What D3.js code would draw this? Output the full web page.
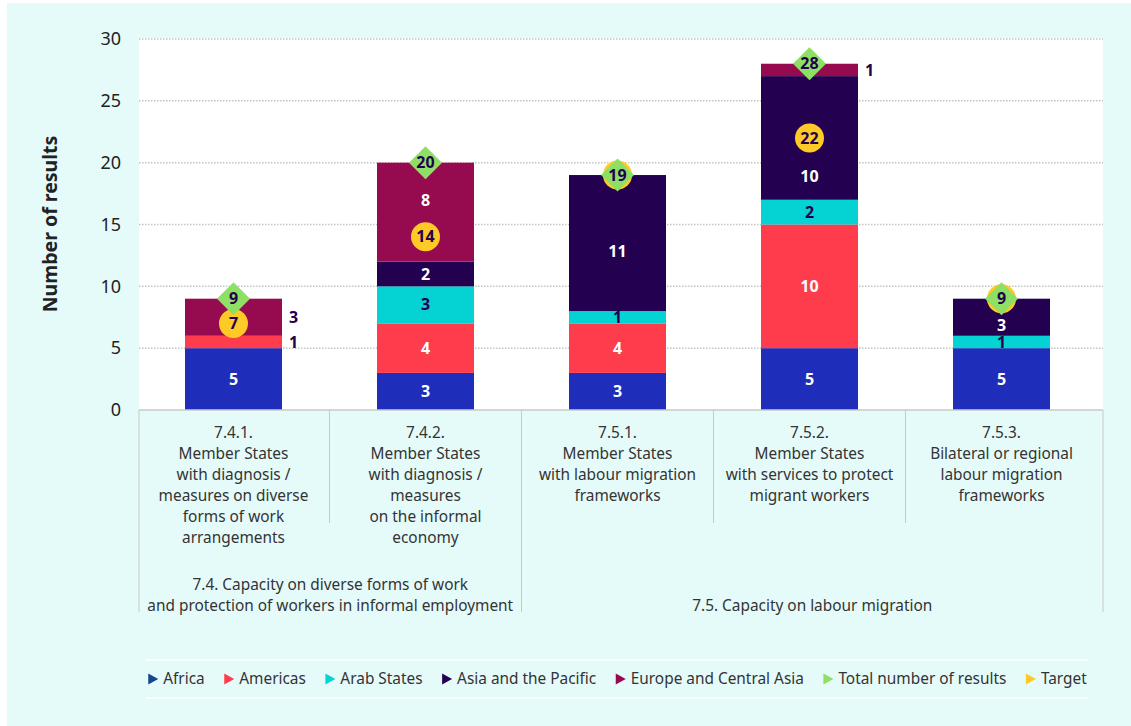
<!DOCTYPE html>
<html>
<head>
<meta charset="utf-8">
<script src="https://cdn.jsdelivr.net/npm/d3@7"></script>
<style>
  html, body { margin: 0; padding: 0; background: #ffffff; }
  svg { display: block; font-family: "Noto Sans", "Open Sans", sans-serif; }
</style>
</head>
<body>
<svg id="chart" width="1131" height="726"></svg>
<script>
// Indicator codes (one bar each)
const categories = ["7.4.1.", "7.4.2.", "7.5.1.", "7.5.2.", "7.5.3."];

// Multi-line axis labels under each bar
const categoryLabels = [
  ["7.4.1.", "Member States", "with diagnosis /", "measures on diverse", "forms of work", "arrangements"],
  ["7.4.2.", "Member States", "with diagnosis /", "measures", "on the informal", "economy"],
  ["7.5.1.", "Member States", "with labour migration", "frameworks"],
  ["7.5.2.", "Member States", "with services to protect", "migrant workers"],
  ["7.5.3.", "Bilateral or regional", "labour migration", "frameworks"]
];

// Outcome groups spanning several indicators
const groupNames = [
  ["7.4. Capacity on diverse forms of work", "and protection of workers in informal employment"],
  ["7.5. Capacity on labour migration"]
];
const groupMembers = [["7.4.1.", "7.4.2."], ["7.5.1.", "7.5.2.", "7.5.3."]];

// Results per region
const regions = ["Africa", "Americas", "Arab States", "Asia and the Pacific", "Europe and Central Asia"];
const africa   = [5, 3, 3, 5, 5];
const americas = [1, 4, 4, 10, 0];
const arab     = [0, 3, 1, 2, 1];
const asiaPac  = [0, 2, 11, 10, 3];
const europeCA = [3, 8, 0, 1, 0];

// Overall totals and targets
const totals  = [9, 20, 19, 28, 9];
const targets = [7, 14, 19, 22, 9];

const yTicks = [0, 5, 10, 15, 20, 25, 30];

const legendItems = ["Africa", "Americas", "Arab States", "Asia and the Pacific",
                     "Europe and Central Asia", "Total number of results", "Target"];

// ---------- styling ----------
const regionColors = ["#1f2dbb", "#fe3c4c", "#05d2d2", "#230050", "#960a50"];
const regionText   = ["#ffffff", "#ffffff", "#230050", "#ffffff", "#ffffff"];
const legendColors = ["#16468c", "#fe3c4c", "#05d2d2", "#230050", "#960a50", "#8de064", "#ffc926"];
const totalColor = "#8de064";
const targetColor = "#ffc926";
const darkInk = "#230050";
const labelSize = 15.4;

const svg = d3.select("#chart");
const W = 1131, H = 726;
const plot = { left: 139, right: 1103, top: 38, bottom: 410 };

// background panel
svg.append("rect").attr("x", 7).attr("y", 3).attr("width", W - 7).attr("height", H - 3)
  .attr("fill", "#e5fbfa");
svg.append("rect").attr("x", plot.left).attr("y", plot.top)
  .attr("width", plot.right - plot.left).attr("height", plot.bottom - plot.top)
  .attr("fill", "#ffffff");

// scales
const pad = 0.4948;
const x = d3.scaleBand().domain(categories).range([137.5, 1097.5])
  .paddingInner(pad).paddingOuter(pad / 2);
const y = d3.scaleLinear().domain([0, 30]).range([plot.bottom, plot.top + 1]);

// gridlines
svg.append("g").selectAll("line").data(yTicks.filter(t => t > 0)).join("line")
  .attr("x1", plot.left).attr("x2", plot.right)
  .attr("y1", d => y(d)).attr("y2", d => y(d))
  .attr("stroke", "#c4c4c4").attr("stroke-width", 1.5).attr("stroke-dasharray", "1.5,1.5");

// y axis labels
const yAxis = d3.axisLeft(y).tickValues(yTicks).tickSize(0).tickPadding(0);
const yg = svg.append("g").attr("transform", "translate(121,0)").call(yAxis);
yg.select(".domain").remove();
yg.selectAll("text").attr("font-size", 18).attr("fill", "#222").attr("font-family", "Noto Sans");

svg.append("text")
  .attr("transform", `translate(52,${(plot.top + plot.bottom) / 2}) rotate(-90)`)
  .attr("text-anchor", "middle").attr("dominant-baseline", "middle")
  .attr("font-size", 19.5).attr("font-weight", 700).attr("fill", "#222")
  .text("Number of results");

// stacked data
const rows = categories.map((c, i) => ({
  cat: c, Africa: africa[i], Americas: americas[i], "Arab States": arab[i],
  "Asia and the Pacific": asiaPac[i], "Europe and Central Asia": europeCA[i]
}));
const stacked = d3.stack().keys(regions)(rows);

const bars = svg.append("g");
stacked.forEach((layer, k) => {
  bars.selectAll(null).data(layer.filter(d => d[1] > d[0])).join("rect")
    .attr("x", d => x(d.data.cat))
    .attr("width", x.bandwidth())
    .attr("y", d => y(d[1]))
    .attr("height", d => y(d[0]) - y(d[1]))
    .attr("fill", regionColors[k]);
});

// x axis line and category table
const sepX = [plot.left];
for (let i = 1; i < categories.length; i++) sepX.push(x(categories[i]) - x.step() * pad / 2);
sepX.push(plot.right);

svg.append("line").attr("x1", plot.left).attr("x2", plot.right)
  .attr("y1", plot.bottom).attr("y2", plot.bottom)
  .attr("stroke", "#c8c8c8").attr("stroke-width", 1.5);

const groupEdges = new Set([0, 2, 5]);
svg.append("g").selectAll("line").data(sepX).join("line")
  .attr("x1", d => d).attr("x2", d => d)
  .attr("y1", plot.bottom)
  .attr("y2", (d, i) => groupEdges.has(i) ? 612 : 523)
  .attr("stroke", "#c8c8c8").attr("stroke-width", 1);

const catText = svg.append("g").attr("font-size", labelSize).attr("fill", "#333").attr("text-anchor", "middle");
categoryLabels.forEach((lines, i) => {
  const t = catText.append("text")
    .attr("x", x(categories[i]) + x.bandwidth() / 2)
    .attr("y", 438);
  lines.forEach((ln, j) => t.append("tspan")
    .attr("x", x(categories[i]) + x.bandwidth() / 2)
    .attr("dy", j === 0 ? 0 : 21).text(ln));
});

groupNames.forEach((lines, g) => {
  const members = groupMembers[g];
  const i0 = categories.indexOf(members[0]);
  const i1 = categories.indexOf(members[members.length - 1]);
  const cx = (sepX[i0] + sepX[i1 + 1]) / 2;
  const t = svg.append("text").attr("text-anchor", "middle")
    .attr("font-size", labelSize).attr("fill", "#333");
  const lastY = 611;
  lines.forEach((ln, j) => t.append("tspan")
    .attr("x", cx).attr("y", lastY - (lines.length - 1 - j) * 21).text(ln));
});

// markers: targets (circles) drawn beneath totals (diamonds)
const R_TARGET = 14.5, H_DIAMOND = 16.5;
const cxOf = i => x(categories[i]) + x.bandwidth() / 2;

svg.append("g").selectAll("circle").data(targets).join("circle")
  .attr("cx", (d, i) => cxOf(i)).attr("cy", d => y(d)).attr("r", R_TARGET)
  .attr("fill", targetColor);
svg.append("g").selectAll("text").data(targets).join("text")
  .attr("x", (d, i) => cxOf(i)).attr("y", d => y(d))
  .attr("dy", "0.35em").attr("text-anchor", "middle")
  .attr("font-size", 16).attr("font-weight", 700).attr("fill", darkInk)
  .text(d => d);

svg.append("g").selectAll("path").data(totals).join("path")
  .attr("d", (d, i) => {
    const cx = cxOf(i), cy = y(d), h = H_DIAMOND;
    return `M${cx},${cy - h}L${cx + h},${cy}L${cx},${cy + h}L${cx - h},${cy}Z`;
  })
  .attr("fill", totalColor);
svg.append("g").selectAll("text").data(totals).join("text")
  .attr("x", (d, i) => cxOf(i)).attr("y", d => y(d))
  .attr("dy", "0.35em").attr("text-anchor", "middle")
  .attr("font-size", 16).attr("font-weight", 700).attr("fill", darkInk)
  .text(d => d);

// segment labels: placed in the largest gap left free by the markers,
// or beside the bar when the segment has no room
function labelSpot(i, top, bottom) {
  const blocks = [
    [y(totals[i]) - H_DIAMOND, y(totals[i]) + H_DIAMOND],
    [y(targets[i]) - R_TARGET, y(targets[i]) + R_TARGET]
  ].sort((a, b) => a[0] - b[0]);
  let free = [[top, bottom]];
  blocks.forEach(([b0, b1]) => {
    const next = [];
    free.forEach(([f0, f1]) => {
      if (b1 <= f0 || b0 >= f1) { next.push([f0, f1]); return; }
      if (b0 > f0) next.push([f0, b0]);
      if (b1 < f1) next.push([b1, f1]);
    });
    free = next;
  });
  let best = null;
  free.forEach(f => {
    if (!best || (f[1] - f[0]) > (best[1] - best[0]) + 0.01) best = f;
  });
  if (!best || best[1] - best[0] < 11.5) return { inside: false, y: (top + bottom) / 2 };
  return { inside: true, y: (best[0] + best[1]) / 2 };
}

const segLabels = svg.append("g").attr("font-size", 16).attr("font-weight", 700);
stacked.forEach((layer, k) => {
  layer.forEach((d, i) => {
    const v = d[1] - d[0];
    if (v <= 0) return;
    const spot = labelSpot(i, y(d[1]), y(d[0]));
    segLabels.append("text")
      .attr("x", spot.inside ? cxOf(i) : x(d.data.cat) + x.bandwidth() + 7)
      .attr("y", spot.y).attr("dy", "0.35em")
      .attr("text-anchor", spot.inside ? "middle" : "start")
      .attr("fill", spot.inside ? regionText[k] : darkInk)
      .text(v);
  });
});

// legend
const legendY = 679;
svg.append("g").selectAll("line").data([660, 698]).join("line")
  .attr("x1", 146).attr("x2", 1088).attr("y1", d => d).attr("y2", d => d)
  .attr("stroke", "#ffffff").attr("stroke-width", 1.5);

const lg = svg.append("g");
const items = legendItems.map((name, i) => {
  const g = lg.append("g");
  g.append("path").attr("d", "M0,-5.5L10,0L0,5.5Z").attr("fill", legendColors[i]);
  const t = g.append("text").attr("x", 15).attr("dy", "0.35em")
    .attr("font-size", labelSize).attr("fill", "#333").text(name);
  return { g, w: 15 + t.node().getComputedTextLength() };
});
const gap = 19.5;
const totalW = d3.sum(items, d => d.w) + gap * (items.length - 1);
let lx = 617.5 - totalW / 2;
items.forEach(it => {
  it.g.attr("transform", `translate(${lx},${legendY})`);
  lx += it.w + gap;
});
</script>
</body>
</html>
